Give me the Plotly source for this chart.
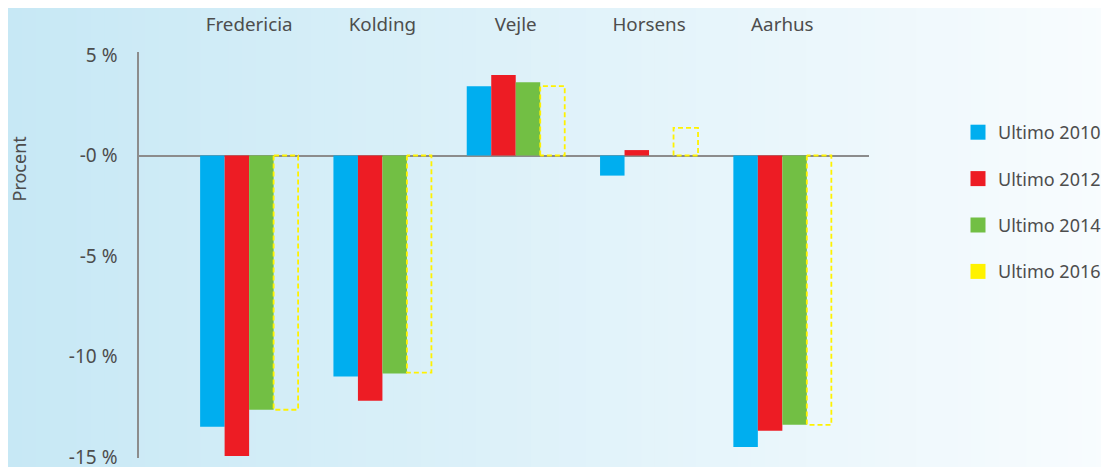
import plotly.graph_objects as go

cities = ["Fredericia", "Kolding", "Vejle", "Horsens", "Aarhus"]
v2010 = [-13.5, -11.0, 3.45, -1.0, -14.5]
v2012 = [-14.95, -12.2, 4.0, 0.27, -13.7]
v2014 = [-12.65, -10.85, 3.65, None, -13.4]
v2016 = [-12.65, -10.8, 3.45, 1.37, -13.4]
ytick_vals = [5, 0, -5, -10, -15]
ytick_text = ["5 %", "-0 %", "-5 %", "-10 %", "-15 %"]

colors = ["#00aeef", "#ed1c24", "#72bf44", "#fff200"]
names = ["Ultimo 2010", "Ultimo 2012", "Ultimo 2014", "Ultimo 2016"]

idx = list(range(len(cities)))
bargap = 0.265
bw = (1 - bargap) / 4

# page body has an 8px margin; work in target pixel coords and shift
OFF = 8
W, H = 1109 - OFF, 467 - OFF
L, R, T, B = 139 - OFF, 869 - OFF, 52 - OFF, 458 - OFF
PW, PH = R - L, B - T


def px(xp):
    return (xp - OFF - L) / PW


def py(yp):
    return (B - (yp - OFF)) / PH


fig = go.Figure()

# background gradient
n = 80
x_left, x_right = -L / PW, (W - L) / PW
c0 = (199, 232, 245)
c1 = (248, 252, 254)
for k in range(n):
    t = k / (n - 1)
    col = tuple(int(round(c0[j] + (c1[j] - c0[j]) * t)) for j in range(3))
    xa = x_left + (x_right - x_left) * k / n
    xb = x_left + (x_right - x_left) * (k + 1) / n + 0.002
    fig.add_shape(type="rect", xref="paper", yref="paper", x0=xa, x1=xb,
                  y0=-0.1, y1=1.2, fillcolor="rgb(%d,%d,%d)" % col,
                  line_width=0, layer="below")

for vals, c, nm, og in zip([v2010, v2012, v2014], colors[:3], names[:3], ["a", "b", "c"]):
    fig.add_trace(go.Bar(x=idx, y=vals, name=nm, marker_color=c, marker_line_width=0,
                         offsetgroup=og, showlegend=False))

# 2016 slot (transparent)
fig.add_trace(go.Bar(x=idx, y=v2016, name=names[3], marker_color="rgba(0,0,0,0)",
                     marker_line_width=0, offsetgroup="d", showlegend=False))

# dashed outlines for 2016
ox, oy = [], []
for i, v in enumerate(v2016):
    x0 = i + bw
    x1 = i + 2 * bw
    ox += [x0, x0, x1, x1, x0, None]
    oy += [0, v, v, 0, 0, None]
fig.add_trace(go.Scatter(x=ox, y=oy, mode="lines",
                         line=dict(color="#fff200", width=1.8, dash="5px,3px"),
                         showlegend=False, hoverinfo="skip"))

# legend entries (square markers)
for c, nm in zip(colors, names):
    fig.add_trace(go.Scatter(x=[None], y=[None], mode="markers", name=nm,
                             marker=dict(symbol="square", size=15, color=c),
                             legendgroup=nm))

txt = "#4d4d4d"
fam = "Noto Sans"

fig.update_layout(
    width=W, height=H,
    margin=dict(l=L, r=W - R, t=T, b=H - B, autoexpand=False),
    paper_bgcolor="#e6f4fa", plot_bgcolor="rgba(0,0,0,0)",
    barmode="group", bargap=bargap, bargroupgap=0,
    font=dict(family=fam, size=19, color=txt),
    legend=dict(x=px(958), xanchor="left", y=py(114), yanchor="top",
                tracegroupgap=20, font=dict(family=fam, size=18, color=txt),
                bgcolor="rgba(0,0,0,0)"),
    xaxis=dict(range=[-0.826, 4.65], tickmode="array", tickvals=idx, ticktext=cities,
               side="top", showgrid=False, zeroline=False, showline=False, ticks="",
               automargin=False,
               ticklabelstandoff=16, tickfont=dict(family=fam, size=18.8, color=txt)),
    yaxis=dict(range=[-15.05, 5.15], tickmode="array", tickvals=ytick_vals, ticktext=ytick_text,
               showgrid=False, zeroline=True, zerolinecolor="#8c8c8c", zerolinewidth=1.5,
               showline=True, linecolor="#8c8c8c", linewidth=1.5, ticks="",
               automargin=False, ticklabeloverflow="allow",
               ticklabelstandoff=16, tickfont=dict(family=fam, size=19, color=txt)),
    showlegend=True,
)

fig.add_annotation(text="Procent", xref="paper", yref="paper", x=px(18.5), xanchor="center",
                   y=py(169), yanchor="middle", textangle=-90, showarrow=False,
                   font=dict(family=fam, size=18, color=txt))

fig.write_html("out.html")
